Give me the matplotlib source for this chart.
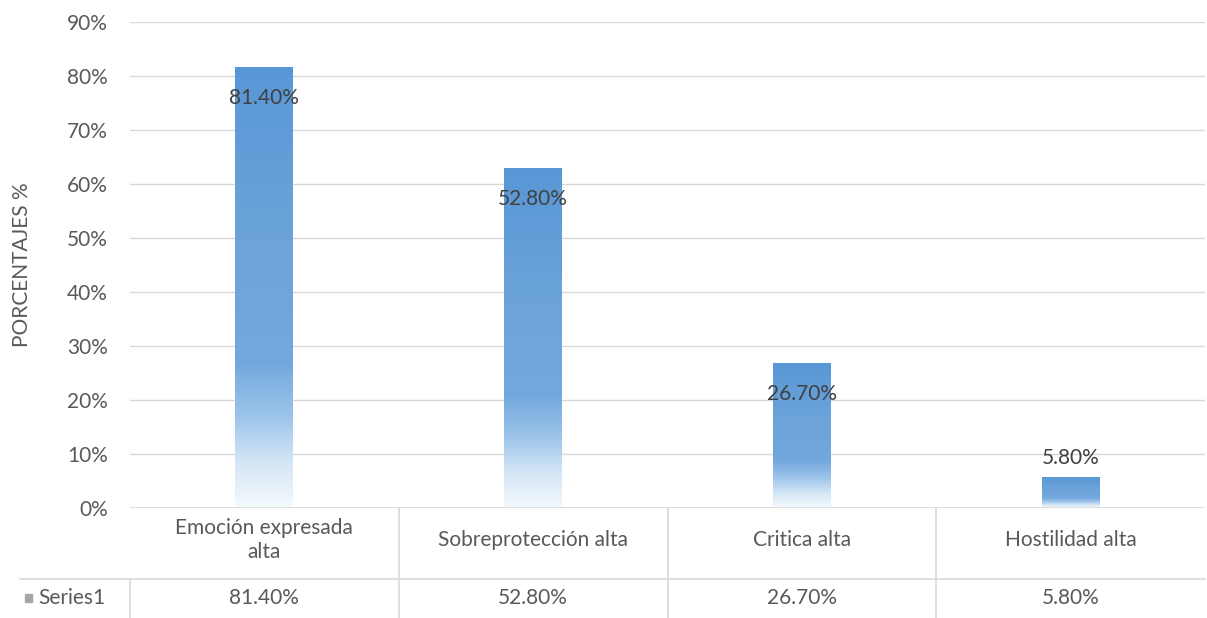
import numpy as np
import matplotlib as mpl
import matplotlib.pyplot as plt
from matplotlib.colors import LinearSegmentedColormap

### Data
categories = ['Emoción expresada\nalta', 'Sobreprotección alta', 'Critica alta', 'Hostilidad alta']
labels = ['81.40%', '52.80%', '26.70%', '5.80%']
bar_heights = [0.815, 0.628, 0.267, 0.057]   # heights as drawn in the picture
yticks = [0.0, 0.1, 0.2, 0.3, 0.4, 0.5, 0.6, 0.7, 0.8, 0.9]
series_name = 'Series1'

plt.rcParams['font.family'] = ['Lato', 'DejaVu Sans']
txt = '#595959'
grid = '#d9d9d9'
fs = 15

W, H = 1207, 618
fig = plt.figure(figsize=(W / 100, H / 100), dpi=100)
ax = fig.add_axes([130 / W, 110 / H, 1075 / W, 486 / H])

### Gradient bars: blue on top fading to white at the bottom
cmap = LinearSegmentedColormap.from_list('fade', ['#f6fafd', '#d6e7f6', '#9cc4ea', '#72a8dd', '#6aa2da', '#5897d6'])
x = np.arange(len(categories))
bw = 0.215
for xi, h in zip(x, bar_heights):
    t = np.linspace(0, 1, 300).reshape(-1, 1)
    g = np.where(t < 0.33, 0.6 * (t / 0.33) ** 0.9, 0.6 + 0.4 * (t - 0.33) / 0.67)
    ax.imshow(g, extent=[xi - bw / 2, xi + bw / 2, 0, h], origin='lower', aspect='auto',
              cmap=cmap, vmin=0, vmax=1, zorder=3)

### Value labels
for xi, h, lab in zip(x, bar_heights, labels):
    off = -30 if h > 0.15 else 19
    ax.annotate(lab, (xi, h), xytext=(0, off), textcoords='offset pixels',
                ha='center', va='center', fontsize=fs, color='#404040', zorder=4)

ax.set_xlim(-0.5, len(categories) - 0.5)
ax.set_ylim(0, 0.9)
ax.set_yticks(yticks)
ax.set_yticklabels([f'{int(round(v * 100))}%' for v in yticks])
ax.tick_params(axis='y', length=0, pad=16, labelsize=fs, labelcolor=txt)
ax.set_xticks([])
ax.grid(axis='y', color=grid, linewidth=1, zorder=0)
for s in ax.spines.values():
    s.set_visible(False)
ax.axhline(0, color=grid, linewidth=1.2, zorder=5)
fig.text(22 / W, 1 - 265 / H, 'PORCENTAJES %', rotation=90, ha='center', va='center',
         fontsize=fs, color=txt)

### Data table below the chart
colw = 1075 / len(categories)
for i, (cat, lab) in enumerate(zip(categories, labels)):
    cx = (130 + colw * (i + 0.5)) / W
    fig.text(cx, 1 - 540 / H, cat, ha='center', va='center', fontsize=fs,
             color=txt, linespacing=1.25)
    fig.text(cx, 1 - 598 / H, lab, ha='center', va='center', fontsize=fs, color=txt)

fig.add_artist(mpl.lines.Line2D([20 / W, 1205 / W], [1 - 579 / H] * 2, color=grid, linewidth=1.2))
fig.add_artist(mpl.lines.Line2D([130 / W] * 2, [0, 1 - 579 / H], color=grid, linewidth=1.2))
for i in range(1, len(categories)):
    bx = (130 + colw * i) / W
    fig.add_artist(mpl.lines.Line2D([bx] * 2, [0, 1 - 508 / H], color=grid, linewidth=1.2))

fig.add_artist(mpl.patches.Rectangle((25 / W, 1 - 602 / H), 7 / W, 8 / H, color='#a6a6a6'))
fig.text(38 / W, 1 - 598 / H, series_name, ha='left', va='center', fontsize=fs, color=txt)

fig.savefig('out.png', dpi=100)
